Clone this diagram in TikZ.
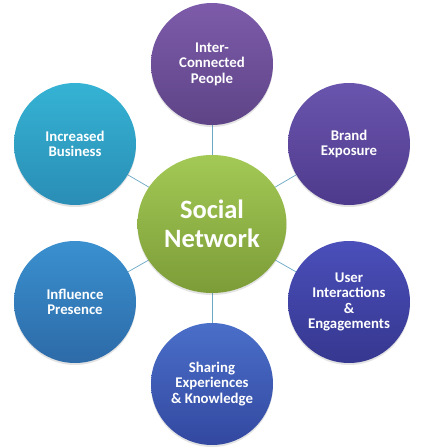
\documentclass[tikz,border=0pt]{standalone}
\usepackage{fontspec}
\setmainfont{Carlito}
\usetikzlibrary{shapes.geometric,shadows}
\definecolor{linec}{HTML}{6BA8C4}
\tikzset{
  bubble/.style={circle, minimum size=122pt, inner sep=0pt, align=center,
    text=white, font=\bfseries\fontsize{14.8}{15.6}\selectfont,
    drop shadow={shadow xshift=0pt, shadow yshift=-2pt, opacity=0.18, fill=black!60}},
  hub/.style={ellipse, minimum width=149pt, minimum height=138pt, inner sep=0pt, align=center,
    text=white, font=\bfseries\fontsize{26.5}{28.5}\selectfont,
    top color=hubT, bottom color=hubB,
    drop shadow={shadow xshift=0pt, shadow yshift=-2pt, opacity=0.18, fill=black!60}},
  link/.style={draw=linec, line width=0.7pt}
}
\definecolor{hubT}{HTML}{A3C955}
\definecolor{hubB}{HTML}{7C9C38}
\begin{document}
\begin{tikzpicture}[x=1pt,y=-1pt]
\useasboundingbox[fill=white] (0,0) rectangle (426,448);
\coordinate (cc) at (212,224);
\coordinate (ct) at (212,64);
\coordinate (cbe) at (349,144);
\coordinate (cib) at (75,144);
\coordinate (cip) at (75,302);
\coordinate (cui) at (349,302);
\coordinate (csh) at (212,384);
\draw[link] (cc) -- (ct);
\draw[link] (cc) -- (cbe);
\draw[link] (cc) -- (cib);
\draw[link] (cc) -- (cip);
\draw[link] (cc) -- (cui);
\draw[link] (cc) -- (csh);
\node[bubble, top color={rgb,255:red,125;green,91;blue,170}, bottom color={rgb,255:red,94;green,68;blue,135}] (top) at (ct) {Inter-\\Connected\\People};
\node[bubble, top color={rgb,255:red,106;green,85;blue,174}, bottom color={rgb,255:red,78;green,58;blue,140}] (be) at (cbe) {Brand\\Exposure};
\node[bubble, top color={rgb,255:red,53;green,179;blue,212}, bottom color={rgb,255:red,42;green,141;blue,181}] (ib) at (cib) {Increased\\Business};
\node[bubble, top color={rgb,255:red,58;green,144;blue,207}, bottom color={rgb,255:red,45;green,106;blue,168}] (ip) at (cip) {Influence\\Presence};
\node[bubble, top color={rgb,255:red,74;green,79;blue,186}, bottom color={rgb,255:red,54;green,55;blue,143}] (ui) at (cui) {User\\Interactions\\\&\\Engagements};
\node[bubble, top color={rgb,255:red,74;green,111;blue,201}, bottom color={rgb,255:red,51;green,72;blue,160}] (sh) at (csh) {Sharing\\Experiences\\\& Knowledge};
\node[hub] (hub) at (cc) {Social\\Network};
\end{tikzpicture}
\end{document}
